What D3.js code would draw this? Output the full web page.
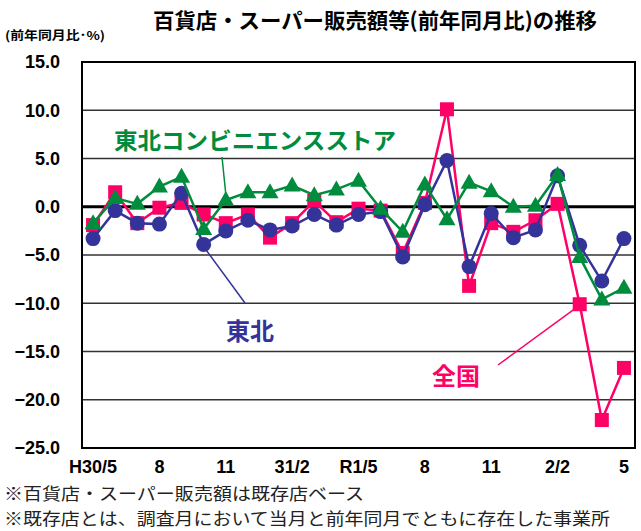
<!DOCTYPE html>
<html><head><meta charset="utf-8">
<script src="https://cdn.jsdelivr.net/npm/d3@7/dist/d3.min.js"></script>
<style>
body{margin:0;background:#fff;}
svg{display:block;}
</style></head>
<body><svg id="c" width="641" height="531"></svg>
<script>
const categories = ["H30/5","H30/6","H30/7","H30/8","H30/9","H30/10","H30/11","H30/12","H31/1","H31/2","H31/3","H31/4",
  "R1/5","R1/6","R1/7","R1/8","R1/9","R1/10","R1/11","R1/12","R2/1","R2/2","R2/3","R2/4","R2/5"];
const tickLabels = ["H30/5","","","8","","","11","","","31/2","","","R1/5","","","8","","","11","","","2/2","","","5"];
const zenkoku = [-1.9,1.5,-1.7,-0.1,0.4,-0.8,-1.7,-0.8,-3.2,-1.7,0.6,-1.6,-0.2,-0.4,-4.8,0.4,10.1,-8.2,-1.7,-2.6,-1.4,0.3,-10.1,-22.1,-16.7];
const tohoku = [-3.3,-0.4,-1.7,-1.8,1.4,-3.9,-2.5,-1.4,-2.4,-2.0,-0.8,-1.9,-0.8,-0.5,-5.2,0.2,4.8,-6.2,-0.7,-3.2,-2.4,3.2,-4.0,-7.7,-3.3];
const tohokuCvs = [-1.7,0.9,0.3,2.1,3.1,-2.3,0.7,1.5,1.5,2.2,1.2,1.8,2.7,-0.2,-2.6,2.3,-1.3,2.5,1.6,0.0,0.1,3.3,-5.2,-9.6,-8.4];
const yTicks = [15,10,5,0,-5,-10,-15,-20,-25];

const svg = d3.select("#c");
const L=82,R=635,T=62,B=448;
const x = d3.scaleBand().domain(categories).range([L,R]);
const y = d3.scaleLinear().domain([-25,15]).range([B,T]);
const cx = c => x(c)+x.bandwidth()/2;

const PINK="#ff0066", BLUE="#333399", GREEN="#008c3c";
const JP = "'Noto Sans CJK JP','Noto Sans',sans-serif";
const NUM = "'Liberation Sans',Arial,sans-serif";

// title
svg.append("text").attr("x",375).attr("y",28).attr("text-anchor","middle")
  .attr("font-family",JP).attr("font-weight","bold").attr("font-size",21)
  .attr("textLength",444).attr("lengthAdjust","spacingAndGlyphs")
  .text("百貨店・スーパー販売額等(前年同月比)の推移");
svg.append("text").attr("x",5).attr("y",40)
  .attr("font-family",JP).attr("font-weight","bold").attr("font-size",12)
  .attr("textLength",100).attr("lengthAdjust","spacingAndGlyphs")
  .text("(前年同月比･%)");

// grid
svg.append("g").selectAll("line").data(yTicks.filter(d=>d!==0 && d!==15 && d!==-25)).join("line")
  .attr("x1",L).attr("x2",R).attr("y1",d=>y(d)).attr("y2",d=>y(d))
  .attr("stroke","#333").attr("stroke-width",1.3);

// y axis labels
const yAxis = d3.axisLeft(y).tickValues(yTicks).tickSize(0).tickPadding(0)
  .tickFormat(d=>d3.format(".1f")(d).replace("-","−"));
const ya = svg.append("g").attr("transform",`translate(${L-22},0)`).call(yAxis);
ya.select(".domain").remove();
ya.selectAll("text").attr("font-family",NUM).attr("font-weight","bold").attr("font-size",18).attr("fill","#000");

// x axis labels
const xAxis = d3.axisBottom(x).tickSize(0).tickPadding(0).tickFormat((d,i)=>tickLabels[i]);
const xa = svg.append("g").attr("transform",`translate(0,${B+12})`).call(xAxis);
xa.select(".domain").remove();
xa.selectAll("text").attr("font-family",NUM).attr("font-weight","bold").attr("font-size",18).attr("fill","#000");

// zero line
svg.append("line").attr("x1",L).attr("x2",R).attr("y1",y(0)).attr("y2",y(0))
  .attr("stroke","#000").attr("stroke-width",3);
// frame
svg.append("rect").attr("x",L).attr("y",T).attr("width",R-L).attr("height",B-T)
  .attr("fill","none").attr("stroke","#000").attr("stroke-width",2);

const line = d3.line().x((d,i)=>cx(categories[i])).y(d=>y(d));

// 全国
svg.append("path").datum(zenkoku).attr("d",line).attr("fill","none").attr("stroke",PINK).attr("stroke-width",2.5);
svg.append("g").selectAll("rect").data(zenkoku).join("rect")
  .attr("x",(d,i)=>cx(categories[i])-7).attr("y",d=>y(d)-7).attr("width",14).attr("height",14).attr("fill",PINK);
// 東北
svg.append("path").datum(tohoku).attr("d",line).attr("fill","none").attr("stroke",BLUE).attr("stroke-width",2.5);
svg.append("g").selectAll("circle").data(tohoku).join("circle")
  .attr("cx",(d,i)=>cx(categories[i])).attr("cy",d=>y(d)).attr("r",7.5).attr("fill",BLUE);
// 東北コンビニ
svg.append("path").datum(tohokuCvs).attr("d",line).attr("fill","none").attr("stroke",GREEN).attr("stroke-width",2.5);
svg.append("g").selectAll("path.tri").data(tohokuCvs).join("path").attr("class","tri")
  .attr("d",(d,i)=>{const px=cx(categories[i]),py=y(d);return `M${px},${py-9}L${px+8.5},${py+6}L${px-8.5},${py+6}Z`;})
  .attr("fill",GREEN);

// labels with leader lines
svg.append("line").attr("x1",222).attr("y1",157).attr("x2",cx(categories[6])).attr("y2",y(tohokuCvs[6])-6)
  .attr("stroke",GREEN).attr("stroke-width",1.5);
svg.append("text").attr("x",114).attr("y",149).attr("font-family",JP).attr("font-weight","bold")
  .attr("font-size",23).attr("fill",GREEN).attr("textLength",282).attr("lengthAdjust","spacingAndGlyphs")
  .text("東北コンビニエンスストア");

svg.append("line").attr("x1",cx(categories[5])+2).attr("y1",y(tohoku[5])+5).attr("x2",245).attr("y2",303)
  .attr("stroke",BLUE).attr("stroke-width",1.5);
svg.append("text").attr("x",226).attr("y",340).attr("font-family",JP).attr("font-weight","bold")
  .attr("font-size",24).attr("fill",BLUE).text("東北");

svg.append("line").attr("x1",498).attr("y1",365).attr("x2",cx(categories[22])-4).attr("y2",y(zenkoku[22])+4)
  .attr("stroke",PINK).attr("stroke-width",1.5);
svg.append("text").attr("x",432).attr("y",385).attr("font-family",JP).attr("font-weight","bold")
  .attr("font-size",24).attr("fill",PINK).text("全国");

// footnotes
svg.append("text").attr("x",4).attr("y",500).attr("font-family",JP).attr("font-size",16.5)
  .attr("fill","#222").attr("textLength",360).attr("lengthAdjust","spacingAndGlyphs")
  .text("※百貨店・スーパー販売額は既存店ベース");
svg.append("text").attr("x",4).attr("y",525).attr("font-family",JP).attr("font-size",16.5)
  .attr("fill","#222").attr("textLength",606).attr("lengthAdjust","spacingAndGlyphs")
  .text("※既存店とは、調査月において当月と前年同月でともに存在した事業所");
</script></body></html>
